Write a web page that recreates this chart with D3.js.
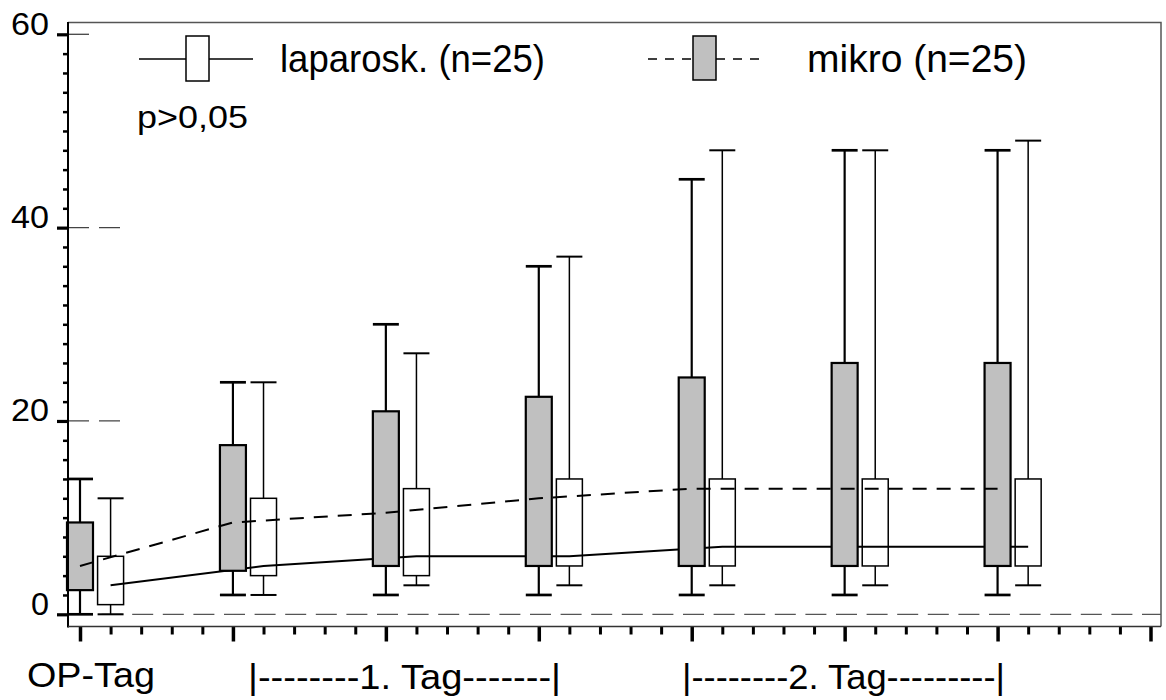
<!DOCTYPE html>
<html><head><meta charset="utf-8">
<script src="https://cdn.jsdelivr.net/npm/d3@7"></script>
<style>html,body{margin:0;padding:0;background:#fff;}svg{display:block;font-family:"Liberation Sans",Arial,sans-serif;}</style>
</head><body>
<svg id="c" width="1166" height="700"></svg>
<script>
// ---- data ----
const categories = ["OP-Tag", "1a", "1b", "1c", "2a", "2b", "2c"];
const mikroLow    = [0, 2, 2, 2, 2, 2, 2];
const mikroQ1     = [2.5, 4.5, 5, 5, 5, 5, 5];
const mikroQ3     = [9.5, 17.5, 21, 22.5, 24.5, 26, 26];
const mikroHigh   = [14, 24, 30, 36, 45, 48, 48];
const mikroLine   = [5, 9.5, 10.5, 12, 13, 13, 13];
const lapLow      = [0, 2, 3, 3, 3, 3, 3];
const lapQ1       = [1, 4, 4, 5, 5, 5, 5];
const lapQ3       = [6, 12, 13, 14, 14, 14, 14];
const lapHigh     = [12, 24, 27, 37, 48, 48, 49];
const lapLine     = [3, 5, 6, 6, 7, 7, 7];
const yTickLabels = ["0", "20", "40", "60"];
const xLabels     = ["OP-Tag", "|--------1. Tag-------|", "|--------2. Tag---------|"];
const legendLabels = ["laparosk. (n=25)", "mikro (n=25)"];
const note = "p>0,05";

// ---- layout ----
const svg = d3.select("#c");
const y = d3.scaleLinear().domain([0, 60]).range([614.3, 34.3]);
const x = d3.scaleLinear().domain([0, 35]).range([80, 1150.5]);
const L = 68, R = 1161, T = 22.5, B = 626.5;
const hw = 13;
const step = 5;

function txt(g, s, px, py, size, len, anchor) {
  const t = g.append("text").attr("x", px).attr("y", py).style("font-size", size + "px")
    .attr("text-anchor", anchor || "start").attr("fill", "#000").text(s);
  if (len) t.attr("textLength", len).attr("lengthAdjust", "spacingAndGlyphs");
  return t;
}

// frame (top & right)
svg.append("path").attr("d", `M${L},${T}H${R}V${B}`).attr("fill", "none")
  .attr("stroke", "#555").attr("stroke-width", 1.5);

// zero dashed line
svg.append("line").attr("x1", L).attr("x2", R).attr("y1", y(0)).attr("y2", y(0))
  .attr("stroke", "#555").attr("stroke-width", 1.3).attr("stroke-dasharray", "21,9.6").attr("stroke-dashoffset", -3);
// grid remnants
[[60, 21], [40, 52], [20, 52]].forEach(([v, len]) => {
  svg.append("line").attr("x1", L).attr("x2", L + len).attr("y1", y(v)).attr("y2", y(v))
    .attr("stroke", "#444").attr("stroke-width", 1.3).attr("stroke-dasharray", "21,10");
});

function drawBoxes(g, low, q1, q3, high, offset, fill, sw) {
  categories.forEach((c, i) => {
    const cx = x(i * step + offset);
    g.append("line").attr("x1", cx).attr("x2", cx).attr("y1", y(high[i])).attr("y2", y(q3[i]))
      .attr("stroke", "#000").attr("stroke-width", sw);
    g.append("line").attr("x1", cx).attr("x2", cx).attr("y1", y(q1[i])).attr("y2", y(low[i]))
      .attr("stroke", "#000").attr("stroke-width", sw);
    [high[i], low[i]].forEach(v => {
      g.append("line").attr("x1", cx - hw).attr("x2", cx + hw).attr("y1", y(v)).attr("y2", y(v))
        .attr("stroke", "#000").attr("stroke-width", sw + 0.5);
    });
    g.append("rect").attr("x", cx - hw).attr("width", 2 * hw)
      .attr("y", y(q3[i])).attr("height", y(q1[i]) - y(q3[i]))
      .attr("fill", fill).attr("stroke", "#000").attr("stroke-width", sw);
  });
}

// white boxes (laparosk)
drawBoxes(svg.append("g"), lapLow, lapQ1, lapQ3, lapHigh, 1, "#fff", 1.5);
// solid line
svg.append("path").datum(lapLine)
  .attr("d", d3.line().x((d, i) => x(i * step + 1)).y(d => y(d)))
  .attr("fill", "none").attr("stroke", "#000").attr("stroke-width", 2);
// grey boxes (mikro)
drawBoxes(svg.append("g"), mikroLow, mikroQ1, mikroQ3, mikroHigh, 0, "#c0c0c0", 2.2);
// dashed line
svg.append("path").datum(mikroLine)
  .attr("d", d3.line().x((d, i) => x(i * step)).y(d => y(d)))
  .attr("fill", "none").attr("stroke", "#000").attr("stroke-width", 2).attr("stroke-dasharray", "14,10");

// y axis
const yMinor = d3.range(0, 61, 2).filter(v => v % 20 !== 0);
const yMajor = [0, 20, 40, 60];
const ga = svg.append("g").attr("transform", `translate(${L},0)`);
ga.call(d3.axisLeft(y).tickValues(yMinor).tickSize(5).tickFormat(""));
ga.selectAll(".tick line").attr("stroke-width", 2.5);
ga.select(".domain").remove();
const gb = svg.append("g").attr("transform", `translate(${L},0)`);
gb.call(d3.axisLeft(y).tickValues(yMajor).tickSize(11).tickFormat((d, i) => yTickLabels[i]));
gb.selectAll(".tick line").attr("stroke-width", 3.2);
gb.select(".domain").remove();
gb.selectAll(".tick text").style("font-size", "32px").attr("dy", "0").attr("x", -19)
  .style("font-family", '"Liberation Sans",Arial,sans-serif').attr("fill", "#000")
  .attr("textLength", d => d === 0 ? 18 : 38).attr("lengthAdjust", "spacingAndGlyphs");
svg.append("line").attr("x1", L).attr("x2", L).attr("y1", T - 0.5).attr("y2", B + 1)
  .attr("stroke", "#000").attr("stroke-width", 2);

// x axis
const xMinor = d3.range(0, 36).filter(v => v % 5 !== 0);
const xMajor = d3.range(0, 36, 5);
const gx1 = svg.append("g").attr("transform", `translate(0,${B})`);
gx1.call(d3.axisBottom(x).tickValues(xMinor).tickSize(8).tickFormat(""));
gx1.selectAll(".tick line").attr("stroke-width", 3);
gx1.select(".domain").remove();
const gx2 = svg.append("g").attr("transform", `translate(0,${B})`);
gx2.call(d3.axisBottom(x).tickValues(xMajor).tickSize(15).tickFormat(""));
gx2.selectAll(".tick line").attr("stroke-width", 3.5);
gx2.select(".domain").remove();
svg.append("line").attr("x1", L).attr("x2", R).attr("y1", B).attr("y2", B)
  .attr("stroke", "#333").attr("stroke-width", 1.5);

// x labels
txt(svg, xLabels[0], 27, 687, 35, 128);
txt(svg, xLabels[1], 248, 689, 35, 313);
txt(svg, xLabels[2], 682, 689, 35, 323);

// legend
const lg = svg.append("g");
lg.append("line").attr("x1", 139).attr("x2", 253).attr("y1", 59).attr("y2", 59).attr("stroke", "#000").attr("stroke-width", 1.5);
lg.append("rect").attr("x", 186).attr("y", 36).attr("width", 23).attr("height", 45).attr("fill", "#fff").attr("stroke", "#000").attr("stroke-width", 1.5);
txt(lg, legendLabels[0], 280, 72, 39, 265);
lg.append("line").attr("x1", 648).attr("x2", 762).attr("y1", 59).attr("y2", 59).attr("stroke", "#000").attr("stroke-width", 1.3).attr("stroke-dasharray", "9,8");
lg.append("rect").attr("x", 693).attr("y", 36).attr("width", 23).attr("height", 44).attr("fill", "#c0c0c0").attr("stroke", "#000").attr("stroke-width", 1.5);
txt(lg, legendLabels[1], 807, 72, 39, 220);

txt(svg, note, 137, 128, 31, 111);
</script>
</body></html>
